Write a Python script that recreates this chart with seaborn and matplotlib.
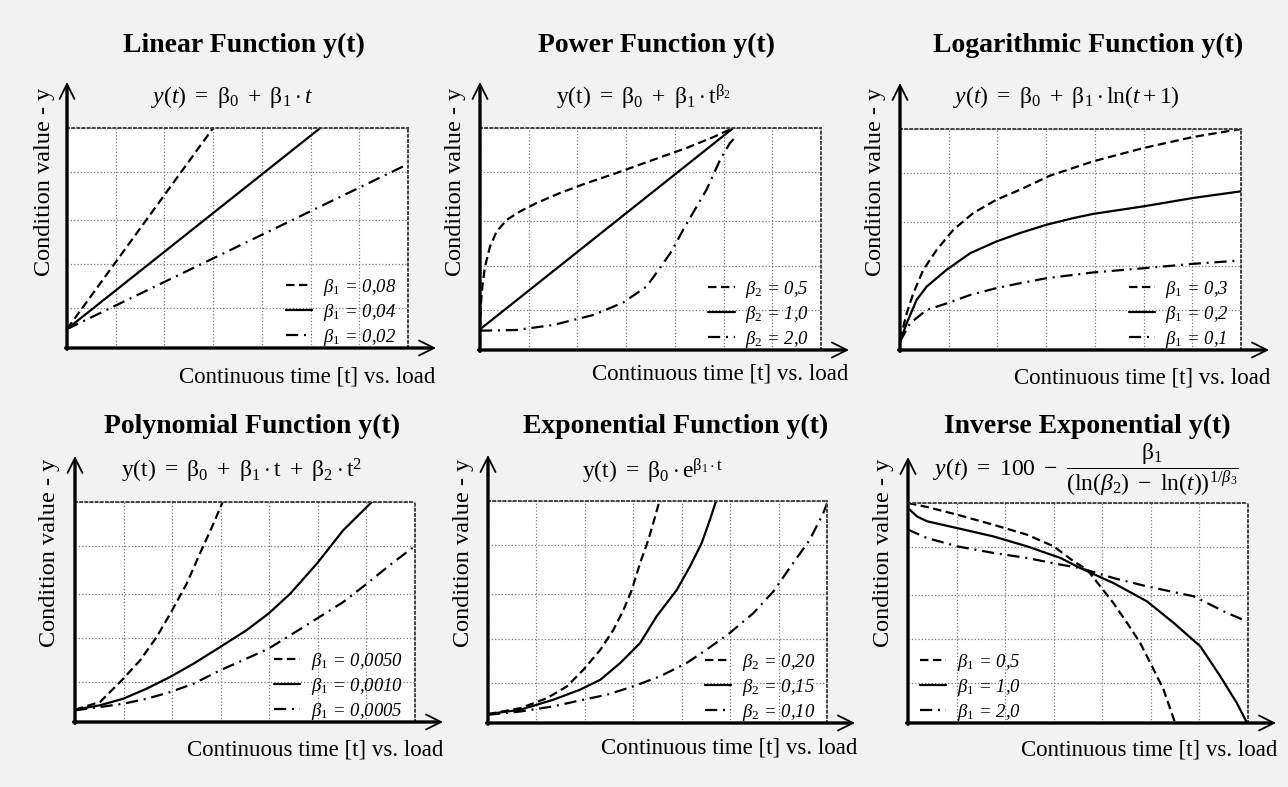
import matplotlib
matplotlib.use("Agg")
import matplotlib.pyplot as plt
import seaborn as sns
import pandas as pd
from matplotlib.font_manager import FontProperties

# ---------------- data (t: 0..70, y: 0..100) ----------------
lin_t_a = [0, 30]
lin_y_a = [8.6, 100]
lin_t_b = [0, 52]
lin_y_b = [8.6, 100]
lin_t_c = [0, 70]
lin_y_c = [8.6, 83.6]

pow_t_a = [0, 0.14, 0.48, 1.03, 2.05, 3.42, 5.47, 8.2, 11.6, 16.4, 21.9, 28.0, 35.6, 42.4, 47.9, 52.0]
pow_y_a = [9.3, 19.5, 28.6, 37.6, 46.6, 53.4, 58.6, 62.4, 66.2, 70.7, 75.2, 79.7, 85.7, 91.0, 95.9, 100]
pow_t_b = [0, 52]
pow_y_b = [9.3, 100]
pow_t_c = [0, 7.5, 15.1, 23.3, 29.4, 34.2, 36.9, 39.3, 41.7, 44.1, 46.5, 49.3, 51.3, 52.7]
pow_y_c = [8.7, 9.0, 11.3, 15.8, 21.4, 28.6, 36.8, 44.4, 54.1, 63.2, 72.2, 85.7, 93.2, 96.5]

log_t_a = [0, 1.37, 2.74, 4.79, 7.53, 10.95, 15.05, 19.8, 24.6, 30.8, 39.7, 50.0, 60.2, 70]
log_y_a = [4.5, 16.6, 25.7, 36.3, 45.3, 54.4, 62.0, 68.0, 72.5, 78.9, 85.4, 91.4, 96.4, 100]
log_t_b = [0, 1.37, 3.42, 5.47, 9.58, 14.4, 19.8, 24.6, 30.1, 35.6, 39.7, 50.0, 60.2, 70]
log_y_b = [3.8, 12.1, 22.7, 28.7, 36.3, 43.8, 49.1, 52.9, 56.7, 59.7, 61.6, 65.0, 68.8, 71.8]
log_t_c = [0, 2.05, 5.47, 9.58, 14.4, 19.8, 24.6, 30.1, 39.7, 50.0, 60.2, 70]
log_y_c = [3.8, 12.1, 18.1, 21.1, 24.9, 28.0, 30.2, 32.5, 35.1, 37.0, 39.0, 40.5]

poly_t_a = [0, 5.15, 9.6, 13.4, 16.8, 19.6, 23.0, 25.7, 28.5, 30.4]
poly_y_a = [5.6, 9.1, 18.9, 28.0, 38.6, 49.2, 62.9, 76.5, 90.1, 100]
poly_t_b = [0, 5.15, 9.95, 14.8, 19.6, 24.4, 29.9, 35.3, 39.8, 44.3, 49.8, 55.2, 61.1]
poly_y_b = [5.6, 7.6, 10.6, 15.2, 20.5, 26.5, 34.1, 41.7, 49.2, 58.3, 72.0, 87.1, 100]
poly_t_c = [0, 5.15, 9.95, 14.8, 19.6, 24.4, 29.9, 35.3, 39.8, 44.3, 49.8, 55.2, 60.1, 65.2, 69.7]
poly_y_c = [5.3, 6.8, 8.3, 10.6, 13.6, 17.4, 23.5, 28.8, 33.3, 39.4, 47.0, 54.5, 62.9, 72.0, 79.5]

exp_t_a = [0, 6.7, 12.2, 16.3, 19.7, 23.2, 25.9, 28.0, 29.7, 31.4, 33.1, 34.5, 35.4]
exp_y_a = [4.0, 6.7, 11.2, 16.5, 24.0, 33.0, 42.0, 51.0, 60.0, 72.0, 82.4, 92.9, 100]
exp_t_b = [0, 6.7, 13.5, 19.0, 23.2, 27.3, 31.4, 34.8, 39.0, 41.7, 44.1, 45.8, 47.1]
exp_y_b = [4.0, 6.0, 10.5, 15.0, 19.5, 27.0, 36.0, 48.0, 60.0, 70.5, 80.9, 91.4, 100]
exp_t_c = [0, 6.7, 13.5, 19.7, 24.5, 30.0, 35.5, 41.0, 45.1, 49.9, 54.8, 58.9, 63.0, 66.4, 69.2, 70]
exp_y_c = [3.7, 5.2, 7.5, 10.5, 12.7, 16.5, 21.0, 27.0, 33.0, 40.5, 49.5, 59.2, 72.0, 82.4, 94.4, 98.9]

inv_t_a = [0, 3.9, 10.1, 17.6, 24.5, 30.0, 34.1, 36.9, 39.6, 42.3, 45.1, 47.8, 50.6, 52.6, 55.0]
inv_y_a = [100, 98.2, 94.7, 90.1, 85.6, 80.3, 73.5, 69.7, 62.1, 54.5, 45.5, 36.4, 24.2, 15.2, 0]
inv_t_b = [0, 1.85, 3.9, 10.1, 17.6, 24.5, 31.4, 35.5, 42.3, 49.2, 54.7, 60.2, 64.3, 67.7, 69.8]
inv_y_b = [97.7, 93.9, 91.7, 88.6, 84.8, 80.3, 75.0, 70.4, 63.6, 55.3, 45.5, 34.8, 21.2, 9.1, 0]
inv_t_c = [0, 3.9, 10.1, 17.6, 24.5, 31.4, 35.5, 42.3, 49.2, 58.8, 65.7, 69.8]
inv_y_c = [87.9, 84.1, 80.3, 77.3, 75.0, 72.0, 70.4, 65.9, 62.1, 57.6, 50.0, 46.2]

titles = ["Linear Function y(t)", "Power Function y(t)", "Logarithmic Function y(t)",
          "Polynomial Function y(t)", "Exponential Function y(t)", "Inverse Exponential y(t)"]
formulas = [r"$y(t)\ =\ \mathrm{β}_0\ +\ \mathrm{β}_1 \cdot t$",
            r"$\mathrm{y(t)}\ =\ \mathrm{β}_0\ +\ \mathrm{β}_1 \cdot \mathrm{t}^{\mathrm{β}_2}$",
            r"$y(t)\ =\ \mathrm{β}_0\ +\ \mathrm{β}_1 \cdot \mathrm{ln}(t+1)$",
            r"$\mathrm{y(t)}\ =\ \mathrm{β}_0\ +\ \mathrm{β}_1 \cdot \mathrm{t}\ +\ \mathrm{β}_2 \cdot \mathrm{t}^2$",
            r"$\mathrm{y(t)}\ =\ \mathrm{β}_0 \cdot \mathrm{e}^{\mathrm{β}_1 \cdot \mathrm{t}}$",
            r"$y(t)\ =\ 100\ -\ \dfrac{\mathrm{β}_1}{(\mathrm{ln}(β_2)\ -\ \mathrm{ln}(t))^{1/β_3}}$"]
legend_labels = [
    [r"$β_1$ = 0,08", r"$β_1$ = 0,04", r"$β_1$ = 0,02"],
    [r"$β_2$ = 0,5", r"$β_2$ = 1,0", r"$β_2$ = 2,0"],
    [r"$β_1$ = 0,3", r"$β_1$ = 0,2", r"$β_1$ = 0,1"],
    [r"$β_1$ = 0,0050", r"$β_1$ = 0,0010", r"$β_1$ = 0,0005"],
    [r"$β_2$ = 0,20", r"$β_2$ = 0,15", r"$β_2$ = 0,10"],
    [r"$β_1$ = 0,5", r"$β_1$ = 1,0", r"$β_1$ = 2,0"],
]
series = [
    [(lin_t_a, lin_y_a), (lin_t_b, lin_y_b), (lin_t_c, lin_y_c)],
    [(pow_t_a, pow_y_a), (pow_t_b, pow_y_b), (pow_t_c, pow_y_c)],
    [(log_t_a, log_y_a), (log_t_b, log_y_b), (log_t_c, log_y_c)],
    [(poly_t_a, poly_y_a), (poly_t_b, poly_y_b), (poly_t_c, poly_y_c)],
    [(exp_t_a, exp_y_a), (exp_t_b, exp_y_b), (exp_t_c, exp_y_c)],
    [(inv_t_a, inv_y_a), (inv_t_b, inv_y_b), (inv_t_c, inv_y_c)],
]
x_grid = [0, 10, 20, 30, 40, 50, 60, 70]
y_grid = [0, 18, 38, 58, 80, 100]

# ---------------- style ----------------
sns.set_theme(style="white")
plt.rcParams["font.family"] = ["Liberation Serif", "DejaVu Serif"]
plt.rcParams["text.color"] = "black"
plt.rcParams["mathtext.fontset"] = "custom"
plt.rcParams["mathtext.rm"] = "Liberation Serif"
plt.rcParams["mathtext.it"] = "Liberation Serif:italic"
plt.rcParams["mathtext.bf"] = "Liberation Serif:bold"

W, H = 1288, 787
fig = plt.figure(figsize=(W / 100, H / 100), dpi=100, facecolor="#f2f2f2")

# plot area boxes in pixels: left, top, right, bottom
boxes = [(67, 128, 408, 348), (480, 128, 821, 350), (900, 129, 1241, 350),
         (75, 502, 415, 722), (488, 501, 827, 723), (908, 503, 1248, 723)]
title_pos = [(244, 45), (656, 45), (1088, 45), (252, 426), (676, 426), (1087, 426)]
formula_pos = [(232, 97), (644, 97), (1066, 97), (242, 471), (653, 471), (1086, 470)]
ylabel_pos = [(45, 182), (455, 182), (876, 182), (50, 553), (463, 553), (883, 553)]
xlabel_right = [(435, 377), (848, 374), (1270, 378), (443, 750), (857, 748), (1277, 750)]
legend_loc = ["lower right"] * 5 + ["lower left"]
legend_anchor = [(1.0, -0.055)] * 5 + [(0.0, -0.055)]

styles = [(0, (3.8, 2.0)), "-", (0, (5.5, 2.6, 0.9, 2.6))]

leg_font = FontProperties(family="Liberation Serif", style="italic", size=13.5)

for i in range(6):
    l, t, r, b = boxes[i]
    ax = fig.add_axes([l / W, 1 - b / H, (r - l) / W, (b - t) / H])
    ax.set_facecolor("white")
    for k, (tt, yy) in enumerate(series[i]):
        df = pd.DataFrame({"t": tt, "y": yy})
        sns.lineplot(data=df, x="t", y="y", ax=ax, color="black", linewidth=1.6,
                     linestyle=styles[k], label=legend_labels[i][k], estimator=None)
    ax.set_xlim(0, 70)
    ax.set_ylim(0, 100)
    ax.set_xticks(x_grid)
    ax.set_yticks(y_grid)
    ax.set_xticklabels([])
    ax.set_yticklabels([])
    ax.tick_params(length=0)
    ax.grid(True, color="#7a7a7a", linestyle=":", linewidth=0.9)
    ax.set_xlabel("")
    ax.set_ylabel("")
    for s in ["top", "right"]:
        ax.spines[s].set_linestyle(":")
        ax.spines[s].set_color("#444444")
        ax.spines[s].set_linewidth(1.4)
    ax.spines["left"].set_visible(False)
    ax.spines["bottom"].set_visible(False)
    ext_y = 1 + 46 / (b - t)
    ext_x = 1 + 28 / (r - l)
    thick = dict(arrowstyle="-", lw=2.4, color="black", shrinkA=0, shrinkB=0)
    head = dict(arrowstyle="->,head_length=0.9,head_width=0.45", lw=1.3, color="black",
                shrinkA=0, shrinkB=0)
    ax.annotate("", xy=(0, ext_y - 6 / (b - t)), xytext=(0, -0.006), xycoords="axes fraction",
                arrowprops=thick, annotation_clip=False)
    ax.annotate("", xy=(0, ext_y), xytext=(0, 0.5), xycoords="axes fraction",
                arrowprops=head, annotation_clip=False)
    ax.annotate("", xy=(ext_x - 6 / (r - l), 0), xytext=(-0.004, 0), xycoords="axes fraction",
                arrowprops=thick, annotation_clip=False)
    ax.annotate("", xy=(ext_x, 0), xytext=(0.5, 0), xycoords="axes fraction",
                arrowprops=head, annotation_clip=False)
    ax.legend(loc=legend_loc[i], bbox_to_anchor=legend_anchor[i], frameon=False,
              prop=leg_font, handlelength=1.4, handletextpad=0.55, labelspacing=0.22,
              borderaxespad=0.5, borderpad=0.15)

    tx, ty = title_pos[i]
    fig.text(tx / W, 1 - ty / H, titles[i], ha="center", va="center",
             fontsize=20, fontweight="bold")
    fx, fy = formula_pos[i]
    fig.text(fx / W, 1 - fy / H, formulas[i], ha="center", va="center", fontsize=17)
    yx, yy_ = ylabel_pos[i]
    fig.text(yx / W, 1 - yy_ / H, "Condition value - y", ha="center", va="center",
             rotation=90, fontsize=17.5)
    xx, xy_ = xlabel_right[i]
    fig.text(xx / W, 1 - xy_ / H, "Continuous time [t] vs. load", ha="right",
             va="center", fontsize=16.5)

fig.savefig("out.png", dpi=100, facecolor=fig.get_facecolor())
